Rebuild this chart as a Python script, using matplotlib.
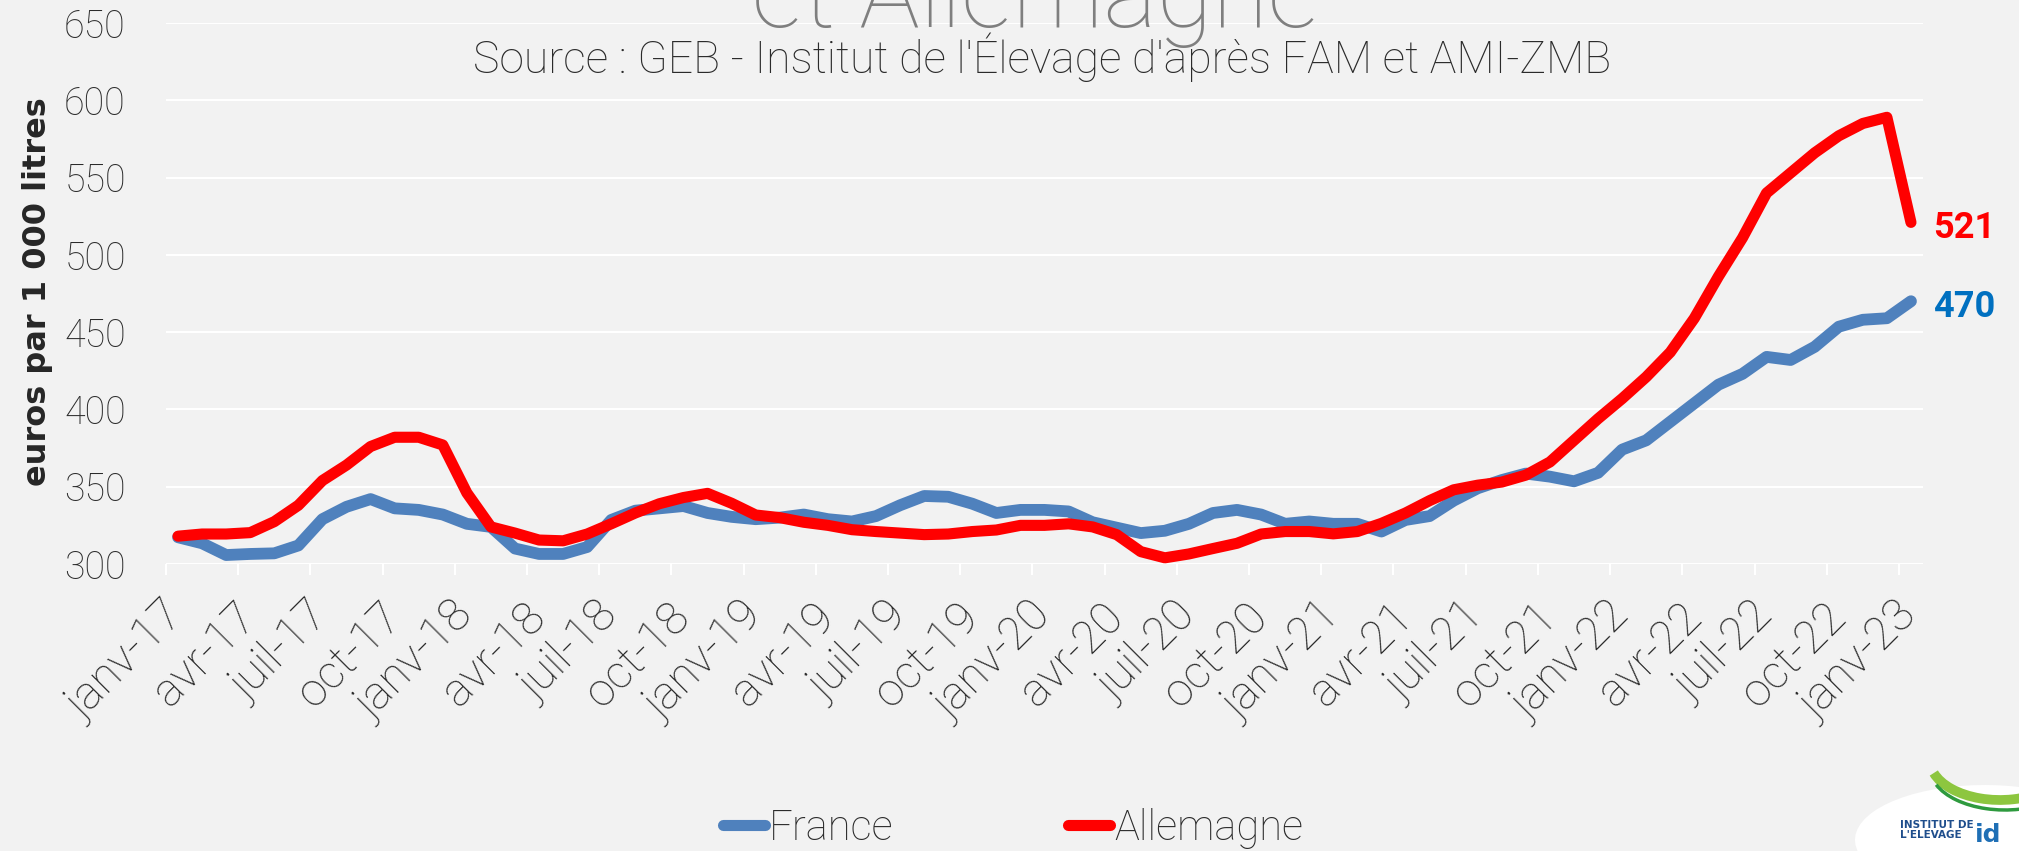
import matplotlib.pyplot as plt
from matplotlib.patches import Ellipse, Arc
from matplotlib.transforms import ScaledTranslation

# monthly prices, janv-17 .. janv-23 (73 months)
france = [317.3, 313.4, 305.8, 306.5, 306.9, 312.0, 329.0, 337.0, 342.0, 336.0,
          335.0, 332.0, 326.0, 324.0, 310.0, 306.5, 306.5, 311.0, 328.5, 334.5,
          336.0, 337.5, 333.0, 330.5, 329.0, 330.0, 332.0, 329.0, 327.5, 331.0,
          338.0, 344.0, 343.5, 339.0, 333.0, 335.0, 335.0, 334.0, 327.0, 323.5,
          320.0, 321.5, 326.0, 333.0, 335.0, 332.0, 326.0, 327.5, 326.0, 326.0,
          321.0, 328.5, 331.0, 341.0, 349.0, 354.3, 358.5, 356.5, 353.5, 359.0,
          374.0, 380.0, 392.0, 404.0, 416.0, 423.0, 434.0, 432.0, 440.5, 453.5,
          458.0, 459.0, 470.0]
allemagne = [318.0, 319.4, 319.4, 320.3, 327.4, 338.0, 354.0, 364.0, 376.0, 382.0,
             382.0, 377.0, 346.0, 324.0, 320.0, 315.5, 315.0, 319.4, 326.0, 333.0,
             339.0, 343.0, 345.7, 339.3, 331.7, 330.0, 327.0, 325.0, 322.2, 321.0,
             320.0, 319.0, 319.4, 321.0, 322.0, 325.0, 325.0, 326.0, 324.0, 319.0,
             308.0, 304.0, 306.5, 310.0, 313.4, 319.4, 321.0, 321.0, 319.5, 321.0,
             326.3, 333.0, 341.0, 348.0, 351.0, 353.0, 357.5, 366.0, 380.0, 394.0,
             407.0, 421.0, 437.0, 459.0, 486.0, 511.0, 540.0, 553.0, 566.0, 577.0,
             585.0, 589.0, 521.0]
tick_labels = ['janv-17', 'avr-17', 'juil-17', 'oct-17',
               'janv-18', 'avr-18', 'juil-18', 'oct-18',
               'janv-19', 'avr-19', 'juil-19', 'oct-19',
               'janv-20', 'avr-20', 'juil-20', 'oct-20',
               'janv-21', 'avr-21', 'juil-21', 'oct-21',
               'janv-22', 'avr-22', 'juil-22', 'oct-22', 'janv-23']

bg = '#F2F2F2'
blue = '#4F81BD'
red = '#FF0000'
txt = '#2B2B2B'
font = 'Roboto'

fig = plt.figure(figsize=(20.19, 8.51), dpi=100, facecolor=bg)
ax = fig.add_axes([166 / 2019, 1 - 564 / 851, 1757 / 2019, 541 / 851])
ax.set_facecolor(bg)

x = list(range(len(france)))
ax.plot(x, france, color=blue, lw=8.5, solid_capstyle='round', solid_joinstyle='round', label='France')
ax.plot(x, allemagne, color=red, lw=8, solid_capstyle='round', solid_joinstyle='round', label='Allemagne')

ax.set_xlim(-0.5, 72.5)
ax.set_ylim(300, 650)
ax.set_yticks(range(300, 651, 50))
ax.yaxis.grid(True, color='white', lw=1.5)
ax.set_axisbelow(True)
for s in ax.spines.values():
    s.set_visible(False)

ax.tick_params(axis='y', length=0, pad=29, labelsize=27, labelcolor=txt)
for lbl in ax.get_yticklabels():
    lbl.set_fontfamily(font)
    lbl.set_fontweight('light')

ax.set_xticks(range(0, 73, 3))
ax.set_xticklabels(tick_labels, rotation=45, ha='right', va='top', rotation_mode='anchor',
                   fontsize=33, color=txt, fontfamily=font, fontweight='light')
ax.tick_params(axis='x', which='major', length=0, pad=22)
shift = ScaledTranslation(-0.16, 0, fig.dpi_scale_trans)
for lbl in ax.get_xticklabels():
    lbl.set_transform(lbl.get_transform() + shift)
ax.set_xticks([v - 0.5 for v in range(0, 73, 3)], minor=True)
ax.tick_params(axis='x', which='minor', length=8, width=1.5, color='white')

# end values
ax.annotate(f'{allemagne[-1]:.0f}', (x[-1], allemagne[-1]), xytext=(16, -4), textcoords='offset points',
            va='center', ha='left', fontsize=26, fontweight='bold', color=red, fontfamily=font)
ax.annotate(f'{france[-1]:.0f}', (x[-1], france[-1]), xytext=(16, -4), textcoords='offset points',
            va='center', ha='left', fontsize=26, fontweight='bold', color='#0070C0', fontfamily=font)

fig.text(38 / 2019, 1 - 292 / 851, 'euros par 1 000 litres', rotation=90, ha='center', va='center',
         fontsize=23, fontweight='bold', color='#262626', family='DejaVu Sans')

fig.text(0.513, 1 - 27 / 851, 'et Allemagne', ha='center', va='baseline', fontsize=73,
         color='#7F7F7F', family=font, fontweight='light')
fig.text(0.516, 1 - 73 / 851, "Source : GEB - Institut de l'Élevage d'après FAM et AMI-ZMB",
         ha='center', va='baseline', fontsize=32, color=txt, family=font, fontweight='light')

leg = fig.legend(loc='lower left', bbox_to_anchor=(702 / 2019, -0.022), ncol=2, frameon=False,
                 handlelength=1.0, handletextpad=0.1, columnspacing=4.2, borderpad=0,
                 prop={'family': font, 'weight': 'light', 'size': 30})
for t in leg.get_texts():
    t.set_color(txt)
for h in leg.legend_handles:
    h.set_linewidth(8)
    h.set_solid_capstyle('round')

# logo
fig.add_artist(Ellipse((1985 / 2019, 1 - 840 / 851), 260 / 2019, 110 / 851, angle=14,
                       fc='white', ec='none', transform=fig.transFigure))
fig.add_artist(Arc((2000 / 2019, 1 - 760 / 851), 140 / 2019, 80 / 851, theta1=205, theta2=300,
                   color='#8DC63F', lw=7, transform=fig.transFigure))
fig.add_artist(Arc((2005 / 2019, 1 - 768 / 851), 150 / 2019, 84 / 851, theta1=210, theta2=300,
                   color='#2E9A3E', lw=2.5, transform=fig.transFigure))
fig.text(1900 / 2019, 1 - 838 / 851, "INSTITUT DE\nL'ELEVAGE", fontsize=7.5, fontweight='bold',
         color='#1F4E8C', family='DejaVu Sans', linespacing=1.0)
fig.text(1975 / 2019, 1 - 842 / 851, 'id', fontsize=18, fontweight='bold', color='#1F6FB5',
         family='DejaVu Sans')

fig.savefig('out.png', dpi=100, facecolor=bg)
